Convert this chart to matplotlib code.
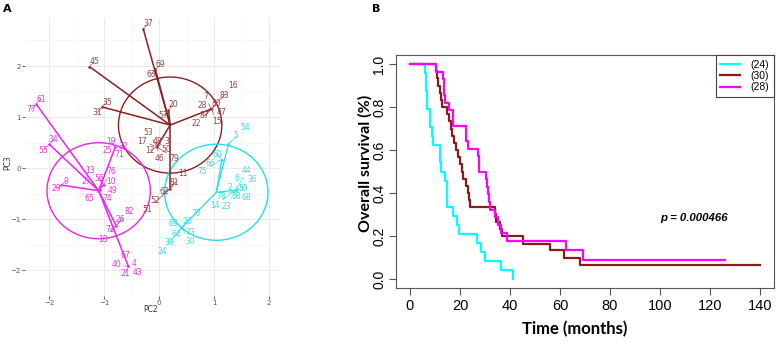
import matplotlib
matplotlib.use("Agg")
import matplotlib.pyplot as plt
from matplotlib.patches import Circle

# ---------------- Panel A data (PCA star plot) ----------------
brown_center = (0.20, 0.845)
brown_px = [-0.29, -0.07, -1.27, -1.04, 0.17, 0.95, -0.04, 0.20]
brown_py = [2.73, 1.94, 1.99, 1.20, 1.14, 1.16, 0.42, -0.40]
brown_lab = ["37", "69", "63", "45", "35", "31", "20", "57", "16", "83", "7", "28", "80", "47", "87", "22", "15",
             "53", "17", "48", "3", "12", "50", "46", "79", "11", "81", "62", "52", "51"]
brown_lab_pt = [0, 1, 1, 2, 3, 3, 4, 4, 5, 5, 5, 5, 5, 5, 5, 5, 5, 6, 6, 6, 6, 6, 6, 6, 6, 7, 7, 7, 7, 7]
brown_lab_x = [-0.19, 0.03, -0.15, -1.18, -0.95, -1.13, 0.26, 0.08, 1.34, 1.19, 0.84, 0.78, 1.04, 1.13, 0.83, 0.67, 1.05,
               -0.19, -0.31, -0.04, 0.14, -0.16, 0.12, 0.01, 0.27, 0.44, 0.28, 0.10, -0.07, -0.22]
brown_lab_y = [2.83, 2.03, 1.83, 2.09, 1.29, 1.09, 1.24, 1.03, 1.61, 1.43, 1.41, 1.23, 1.26, 1.09, 1.03, 0.88, 0.91,
               0.70, 0.53, 0.52, 0.53, 0.35, 0.36, 0.20, 0.20, -0.11, -0.27, -0.46, -0.64, -0.81]

cyan_center = (1.04, -0.47)
cyan_px = [1.26, 1.14, 1.40, 0.41]
cyan_py = [0.47, 0.17, -0.43, -1.16]
cyan_lab = ["54", "5", "60", "66", "75", "44", "6", "36", "2", "59", "78", "58", "68", "14", "23",
            "70", "26", "69", "64", "73", "39", "30", "24"]
cyan_lab_pt = [0, 0, 1, 1, 1, 2, 2, 2, 2, 2, 2, 2, 2, 2, 2, 3, 3, 3, 3, 3, 3, 3, 3]
cyan_lab_x = [1.56, 1.40, 1.06, 0.93, 0.78, 1.59, 1.42, 1.70, 1.28, 1.53, 1.12, 1.40, 1.59, 1.02, 1.23,
              0.67, 0.51, 0.25, 0.32, 0.56, 0.19, 0.56, 0.05]
cyan_lab_y = [0.79, 0.65, 0.27, 0.10, -0.07, -0.05, -0.21, -0.23, -0.37, -0.40, -0.55, -0.55, -0.58, -0.72, -0.74,
              -0.89, -1.05, -1.09, -1.30, -1.25, -1.45, -1.43, -1.63]

mag_center = (-1.10, -0.44)
mag_px = [-2.24, -2.00, -1.78, -0.80, -1.01, -1.07, -0.78, -0.56]
mag_py = [1.26, 0.47, -0.33, 0.41, -0.32, -0.43, -1.13, -1.92]
mag_lab = ["61", "77", "34", "55", "9", "29", "19", "25", "71", "32", "13", "76", "56", "10", "49",
           "27", "65", "74", "82", "26", "72", "18", "67", "40", "4", "21", "43"]
mag_lab_pt = [0, 0, 1, 1, 2, 2, 3, 3, 3, 3, 4, 4, 4, 4, 4, 5, 5, 5, 6, 6, 6, 6, 7, 7, 7, 7, 7]
mag_lab_x = [-2.15, -2.33, -1.92, -2.10, -1.70, -1.87, -0.88, -0.94, -0.73, -0.66, -1.25, -0.88, -1.09, -0.87, -0.85,
             -1.33, -1.27, -0.95, -0.54, -0.70, -0.89, -1.02, -0.62, -0.77, -0.45, -0.62, -0.39]
mag_lab_y = [1.35, 1.15, 0.56, 0.35, -0.25, -0.40, 0.53, 0.35, 0.26, 0.42, -0.05, -0.07, -0.20, -0.25, -0.43,
             -0.26, -0.60, -0.60, -0.84, -1.01, -1.20, -1.39, -1.71, -1.89, -1.87, -2.06, -2.04]

circle_radius = 0.94
pca_ticks = [-2, -1, 0, 1, 2]

# ---------------- Panel B data (Kaplan-Meier) ----------------
km_labels = ["(24)", "(30)", "(28)"]
cyan_t = [0, 6.0, 6.2, 6.4, 6.6, 6.9, 7.8, 8.0, 8.7, 9.0, 11.9, 12.1, 12.3, 13.9, 14.7, 14.8, 14.9,
          17.3, 18.7, 19.6, 26.9, 28.3, 29.9, 36.3, 41.3]
cyan_s = [1.0, 0.958, 0.917, 0.875, 0.833, 0.792, 0.75, 0.708, 0.667, 0.625, 0.583, 0.542, 0.5, 0.458, 0.417,
          0.375, 0.333, 0.292, 0.25, 0.208, 0.167, 0.125, 0.083, 0.042, 0.0]
brown_t = [0, 10.4, 10.7, 11.3, 11.9, 12.3, 12.7, 14.9, 15.6, 16.3, 16.8, 17.4, 18.3, 19.2, 19.9, 20.6,
           21.3, 22.3, 23.0, 23.5, 24.0, 33.9, 34.3, 36.0, 36.7, 45.3, 56.0, 61.6, 68.0, 140.0]
brown_s = [1.0, 0.967, 0.933, 0.9, 0.867, 0.833, 0.8, 0.767, 0.733, 0.7, 0.667, 0.633, 0.6, 0.567, 0.533, 0.5,
           0.467, 0.433, 0.4, 0.367, 0.333, 0.3, 0.267, 0.233, 0.198, 0.163, 0.134, 0.099, 0.066, 0.066]
mag_t = [0, 10.4, 13.3, 13.5, 13.7, 13.9, 15.6, 17.2, 22.3, 23.3, 27.3, 27.4, 27.5, 30.3, 30.9, 31.3, 31.6, 32.0,
         34.0, 35.0, 36.5, 38.7, 62.5, 69.0, 126.0]
mag_s = [1.0, 0.964, 0.929, 0.893, 0.857, 0.821, 0.786, 0.714, 0.643, 0.607, 0.571, 0.536, 0.5, 0.464, 0.429,
         0.393, 0.357, 0.321, 0.286, 0.25, 0.214, 0.178, 0.134, 0.089, 0.089]
km_xticks = [0, 20, 40, 60, 80, 100, 120, 140]
km_yticks = [0.0, 0.2, 0.4, 0.6, 0.8, 1.0]
p_text = "p = 0.000466"
p_pos = (100, 0.284)

# ---------------- Figure ----------------
W, H = 779, 343
fig = plt.figure(figsize=(W / 100, H / 100), dpi=100)


def px_axes(l, t, r, b):
    return fig.add_axes([l / W, 1 - b / H, (r - l) / W, (b - t) / H])


def ftxt(x, y, s, **kw):
    fig.text(x / W, 1 - y / H, s, **kw)


# ----- Panel A -----
axA = px_axes(25, 18, 279, 296)
axA.set_xlim(-2.44, 2.18)
axA.set_ylim(-2.13, 2.94)
for sp in axA.spines.values():
    sp.set_visible(False)
axA.set_xticks(pca_ticks)
axA.set_yticks(pca_ticks)
axA.set_xticks([t + 0.5 for t in pca_ticks[:-1]], minor=True)
axA.set_yticks([t + 0.5 for t in pca_ticks] + [-2.5], minor=True)
axA.grid(True, which="major", color="#EAEAEA", lw=0.7)
axA.grid(True, which="minor", color="#F4F4F4", lw=0.5)
axA.set_axisbelow(True)
axA.tick_params(which="major", length=2, width=0.6, color="#444444", labelsize=5, labelcolor="#555555", pad=1)
axA.tick_params(which="minor", length=0)

groups = [
    (brown_center, brown_px, brown_py, brown_lab, brown_lab_pt, brown_lab_x, brown_lab_y, "#8B2020", "#9C4040", 1.1),
    (cyan_center, cyan_px, cyan_py, cyan_lab, cyan_lab_pt, cyan_lab_x, cyan_lab_y, "#20E0EA", "#30E0EA", 0.9),
    (mag_center, mag_px, mag_py, mag_lab, mag_lab_pt, mag_lab_x, mag_lab_y, "#EE22EE", "#EE30EE", 1.1),
]
for cen, gx, gy, labs, lpt, lx, ly, col, lcol, lw in groups:
    axA.add_patch(Circle(cen, circle_radius, fill=False, ec=col, lw=1.0))
    for x, y in zip(gx, gy):
        axA.plot([cen[0], x], [cen[1], y], color=col, lw=lw, solid_capstyle="butt")
    axA.scatter(gx, gy, s=3, color=col, zorder=3, linewidths=0)
    for s, i, tx, ty in zip(labs, lpt, lx, ly):
        axA.annotate(s, xy=(gx[i], gy[i]), xytext=(tx, ty), fontsize=5.5, color=lcol,
                     ha="center", va="center",
                     arrowprops=dict(arrowstyle="-", color=lcol, lw=0.45, shrinkA=0, shrinkB=0))

ftxt(151, 310, "PC2", fontsize=5.5, color="#333333", ha="center", va="center")
ftxt(8, 163, "PC3", fontsize=5.5, color="#333333", ha="center", va="center", rotation=90)
ftxt(3, 9, "A", fontsize=8, fontweight="bold", ha="left", va="center")
ftxt(372, 9, "B", fontsize=8, fontweight="bold", ha="left", va="center")

# ----- Panel B -----
axB = px_axes(396, 55, 774, 288)
km_font = "Liberation Sans"
l1, = axB.step(cyan_t, cyan_s, where="post", color="#00FFFF", lw=1.6)
l2, = axB.step(brown_t, brown_s, where="post", color="#8B1A1A", lw=1.6)
l3, = axB.step(mag_t, mag_s, where="post", color="#FF00FF", lw=1.6)
axB.set_xlim(-5.6, 145.6)
axB.set_ylim(-0.042, 1.042)
axB.set_xticks(km_xticks)
axB.set_xticklabels([str(v) for v in km_xticks], fontsize=10.5, family=km_font)
axB.set_yticks(km_yticks)
axB.set_yticklabels(["%.1f" % v for v in km_yticks], fontsize=10, family=km_font, rotation=90, va="center")
axB.tick_params(axis="x", direction="out", length=5, width=0.8, color="#555555", pad=3)
axB.tick_params(axis="y", direction="out", length=5, width=0.8, color="#555555", pad=2)
for sp in axB.spines.values():
    sp.set_color("#555555")
    sp.set_linewidth(0.8)
leg = axB.legend([l1, l2, l3], km_labels, loc="upper right", bbox_to_anchor=(1.0, 1.0), borderaxespad=0,
                 fancybox=False, edgecolor="#444444", framealpha=1, handlelength=1.9, handletextpad=1.0,
                 labelspacing=0.12, borderpad=0.45, prop={"family": km_font, "size": 7.5})
leg.get_frame().set_linewidth(0.8)
axB.text(p_pos[0], p_pos[1], p_text, fontsize=8.2, fontstyle="italic", fontweight="bold", family=km_font,
         ha="left", va="center")
ftxt(575, 329, "Time (months)", fontsize=12, fontweight="bold", family="Lato", ha="center", va="center")
ftxt(365, 163, "Overall survival (%)", fontsize=11.5, fontweight="bold", family="Lato", ha="center", va="center",
     rotation=90)

fig.savefig("out.png", dpi=100)
